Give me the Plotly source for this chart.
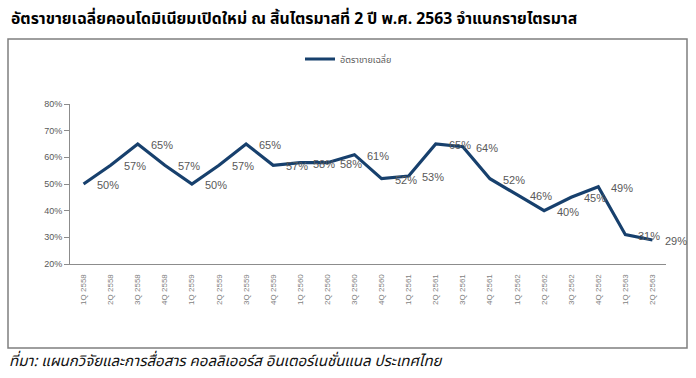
import plotly.graph_objects as go

categories = ["1Q 2558", "2Q 2558", "3Q 2558", "4Q 2558",
              "1Q 2559", "2Q 2559", "3Q 2559", "4Q 2559",
              "1Q 2560", "2Q 2560", "3Q 2560", "4Q 2560",
              "1Q 2561", "2Q 2561", "3Q 2561", "4Q 2561",
              "1Q 2562", "2Q 2562", "3Q 2562", "4Q 2562",
              "1Q 2563", "2Q 2563"]
sales_rate = [50, 57, 65, 57, 50, 57, 65, 57, 58, 58, 61, 52,
              53, 65, 64, 52, 46, 40, 45, 49, 31, 29]
y_ticks = [20, 30, 40, 50, 60, 70, 80]
y_tick_labels = [f"{v}%" for v in y_ticks]

series_name = "อัตราขายเฉลี่ย"
title_text = "อัตราขายเฉลี่ยคอนโดมิเนียมเปิดใหม่ ณ สิ้นไตรมาสที่ 2 ปี พ.ศ. 2563 จำแนกรายไตรมาส"
source_text = "ที่มา: แผนกวิจัยและการสื่อสาร คอลลิเออร์ส อินเตอร์เนชั่นแนล ประเทศไทย"

W, H = 696, 378
L, R, T, B = 70, 30, 104, 114
pw, ph = W - L - R, H - T - B

def px_x(x):
    return (x - L) / pw

def px_y(y):
    return (H - B - y) / ph

fig = go.Figure()
fig.add_trace(go.Scatter(
    x=categories, y=sales_rate, mode="lines", name=series_name,
    line=dict(color="#17406D", width=3.2),
    showlegend=True,
))

annotations = []
for c, v in zip(categories, sales_rate):
    annotations.append(dict(
        x=c, y=v, xref="x", yref="y", text=f"{v}%", showarrow=False,
        xanchor="left", yanchor="middle", xshift=11, yshift=-1,
        font=dict(family="Liberation Sans, Arial, sans-serif", size=11, color="#595959"),
    ))

annotations.append(dict(
    xref="paper", yref="paper", x=px_x(9), y=px_y(19), text=f"<b>{title_text}</b>",
    showarrow=False, xanchor="left", yanchor="middle",
    font=dict(family="Tahoma, 'Noto Sans Thai', 'Noto Sans', sans-serif", size=15.75, color="#000000"),
))
annotations.append(dict(
    xref="paper", yref="paper", x=px_x(7), y=px_y(361), text=f"<i>{source_text}</i>",
    showarrow=False, xanchor="left", yanchor="middle",
    font=dict(family="Tahoma, 'Noto Sans Thai', 'Noto Sans', sans-serif", size=15, color="#111111"),
))

shapes = [dict(
    type="rect", xref="paper", yref="paper",
    x0=px_x(8), x1=px_x(687), y0=px_y(348), y1=px_y(39),
    line=dict(color="#7F7F7F", width=1.5), fillcolor="rgba(0,0,0,0)", layer="below",
)]

fig.update_layout(
    width=W, height=H,
    margin=dict(l=L, r=R, t=T, b=B, pad=0),
    paper_bgcolor="white", plot_bgcolor="white",
    showlegend=True,
    legend=dict(orientation="h", x=px_x(300), y=px_y(59), xanchor="left", yanchor="middle",
                font=dict(family="Tahoma, 'Noto Sans Thai', sans-serif", size=9, color="#595959"),
                bgcolor="rgba(0,0,0,0)", itemwidth=30),
    annotations=annotations,
    shapes=shapes,
)
fig.update_xaxes(
    type="category", range=[-0.5, len(categories) - 0.5],
    showline=True, linecolor="#8C8C8C", linewidth=1,
    showgrid=False, ticks="", tickangle=-90,
    tickfont=dict(family="Liberation Sans, Arial, sans-serif", size=8, color="#7F7F7F"),
    ticklabelstandoff=6,
)
fig.update_yaxes(
    range=[20, 80], tickvals=y_ticks, ticktext=y_tick_labels,
    showline=True, linecolor="#8C8C8C", linewidth=1,
    showgrid=False, zeroline=False, ticks="outside", ticklen=5, tickcolor="#8C8C8C",
    tickfont=dict(family="Liberation Sans, Arial, sans-serif", size=9, color="#595959"),
)

fig.write_html(
    "out.html",
    config={"displayModeBar": False},
    post_script="document.body.style.margin='0';document.body.style.overflow='hidden';",
)
